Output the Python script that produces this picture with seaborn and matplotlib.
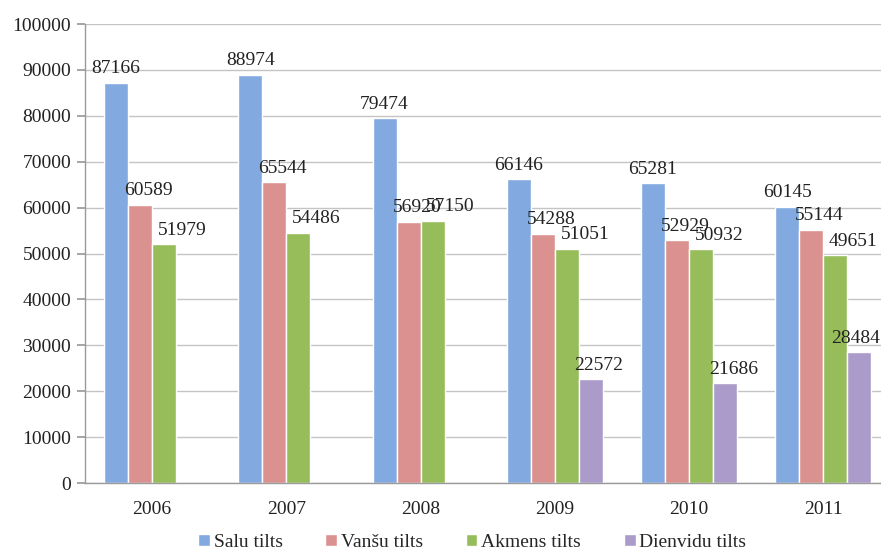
import numpy as np
import pandas as pd
import matplotlib
matplotlib.use("Agg")
import matplotlib.pyplot as plt
import seaborn as sns

years = ["2006", "2007", "2008", "2009", "2010", "2011"]
series = ["Salu tilts", "Vanšu tilts", "Akmens tilts", "Dienvidu tilts"]
salu = [87166, 88974, 79474, 66146, 65281, 60145]
vansu = [60589, 65544, 56920, 54288, 52929, 55144]
akmens = [51979, 54486, 57150, 51051, 50932, 49651]
dienvidu = [np.nan, np.nan, np.nan, 22572, 21686, 28484]
yticks = list(range(0, 100001, 10000))
colors = ["#82AAE0", "#DB918F", "#97BD5A", "#AA9BCA"]

rows = []
for name, vals in zip(series, [salu, vansu, akmens, dienvidu]):
    for y, v in zip(years, vals):
        rows.append({"year": y, "bridge": name, "value": v})
df = pd.DataFrame(rows)

sns.set_theme(style="white")
plt.rcParams["font.family"] = ["Liberation Serif", "DejaVu Serif"]

fig = plt.figure(figsize=(8.81, 5.52), dpi=100)
ax = fig.add_axes([0.0965, 0.125, 0.914, 0.8315])

sns.barplot(data=df, x="year", y="value", hue="bridge", order=years,
            hue_order=series, palette=colors, width=0.715, errorbar=None,
            saturation=1, ax=ax, legend=True)

ax.set_ylim(0, 100000)
ax.set_xlim(-0.5, 5.5)
ax.set_yticks(yticks)
ax.set_yticklabels([str(t) for t in yticks], fontsize=14, color="#222222")
ax.set_xlabel("")
ax.set_ylabel("")
ax.grid(axis="y", color="#C4C4C4", linewidth=1.0)
ax.set_axisbelow(True)
for s in ["top", "right"]:
    ax.spines[s].set_visible(False)
for s in ["left", "bottom"]:
    ax.spines[s].set_color("#9A9A9A")
    ax.spines[s].set_linewidth(1.0)

ax.tick_params(axis="x", which="major", length=0, labelsize=14, pad=13,
               labelcolor="#222222")
ax.set_xticks(np.arange(-0.5, 5.0, 1.0), minor=True)
ax.tick_params(axis="x", which="minor", length=5, color="#9A9A9A", direction="out")
ax.tick_params(axis="y", length=6, color="#9A9A9A", direction="out", left=True, pad=4)

# data labels
offsets = [0, 6, 13, 6]
anns = []
for i, cont in enumerate(ax.containers):
    dx = offsets[i]
    for bar in cont:
        h = bar.get_height()
        if np.isnan(h) or h == 0:
            continue
        a = ax.annotate(f"{int(round(h))}", (bar.get_x() + bar.get_width() / 2, h),
                        xytext=(dx, 4), textcoords="offset points",
                        ha="center", va="bottom", fontsize=14, color="#222222",
                        annotation_clip=False)
        anns.append((a, dx))

handles, labels = ax.get_legend_handles_labels()
ax.legend_.remove()
fig.legend(handles, labels, loc="lower center", bbox_to_anchor=(0.536, -0.03),
           ncol=4, frameon=False, fontsize=14, handlelength=0.6, handleheight=0.6,
           handletextpad=0.2, columnspacing=2.2)

# keep labels inside the figure
fig.canvas.draw()
r = fig.canvas.get_renderer()
W = fig.bbox.width
for a, dx in anns:
    bb = a.get_window_extent(r)
    if bb.x1 > W - 1:
        shift_px = bb.x1 - (W - 1)
        a.set_position((dx - shift_px * 72 / fig.dpi, 4))

fig.savefig("out.png", dpi=100)
